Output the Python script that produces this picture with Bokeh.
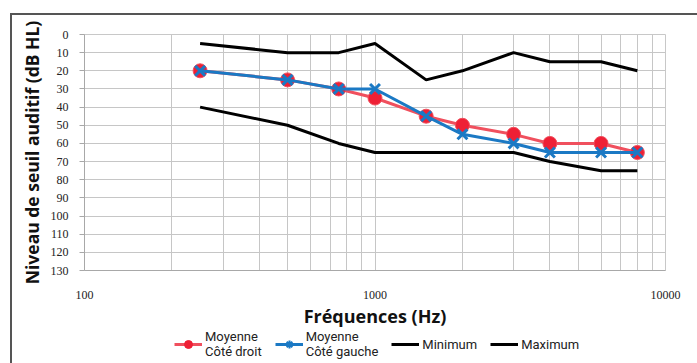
from bokeh.plotting import figure
from bokeh.models import Range1d, FixedTicker, Legend, LegendItem, ColumnDataSource
from bokeh.layouts import column
from bokeh.embed import file_html
from bokeh.resources import INLINE

freqs = [250, 500, 750, 1000, 1500, 2000, 3000, 4000, 6000, 8000]
right_mean = [20, 25, 30, 35, 45, 50, 55, 60, 60, 65]
left_mean = [20, 25, 30, 30, 45, 55, 60, 65, 65, 65]
minimum = [5, 10, 10, 5, 25, 20, 10, 15, 15, 20]
maximum = [40, 50, 60, 65, 65, 65, 65, 70, 75, 75]

x_ticks = [100, 1000, 10000]
x_minor = [200, 300, 400, 500, 600, 700, 800, 900,
           2000, 3000, 4000, 5000, 6000, 7000, 8000, 9000]
y_ticks = list(range(0, 140, 10))
legend_labels = ["Moyenne\nCôté droit", "Moyenne\nCôté gauche", "Minimum", "Maximum"]

src = ColumnDataSource(dict(f=freqs, r=right_mean, l=left_mean, mn=minimum, mx=maximum))

red_line = "#f0505e"
red_fill = "#ee2035"
blue = "#1b79c4"
frame_col = "#555555"

# ---------------- main chart ----------------
p = figure(width=697, height=330, x_axis_type="log",
           x_range=Range1d(100, 10000), y_range=Range1d(130, 0),
           output_backend="svg", toolbar_location=None,
           min_border_left=84, min_border_right=32, min_border_top=34, min_border_bottom=57)

p.background_fill_color = "white"
p.border_fill_alpha = 0
p.outline_line_color = "#c8c8c8"
p.styles = {
    "background-color": "white",
    "background-image": f"linear-gradient({frame_col}, {frame_col}), linear-gradient({frame_col}, {frame_col})",
    "background-size": "2px 100%, 100% 2px",
    "background-position": "10px 13px, 10px 13px",
    "background-repeat": "no-repeat",
}

grid_col = "#c6c6c6"
p.xaxis.ticker = FixedTicker(ticks=x_ticks, minor_ticks=x_minor)
p.yaxis.ticker = FixedTicker(ticks=y_ticks)
p.xgrid.grid_line_color = grid_col
p.xgrid.minor_grid_line_color = grid_col
p.ygrid.grid_line_color = grid_col
p.xaxis.major_label_overrides = {100: "100", 1000: "1000", 10000: "10000"}

for ax in (p.xaxis[0], p.yaxis[0]):
    ax.axis_line_color = "#a8a8a8"
    ax.major_label_text_font = "Liberation Serif"
    ax.major_label_text_font_size = "12px"
    ax.major_label_text_color = "#222222"
    ax.axis_label_text_font = "Open Sans"
    ax.axis_label_text_font_style = "bold"
    ax.axis_label_text_color = "#111111"
    ax.minor_tick_line_color = None

p.xaxis.major_tick_line_color = None
p.xaxis.major_label_standoff = 14
p.xaxis.axis_label = "Fréquences (Hz)"
p.xaxis.axis_label_text_font_size = "18px"
p.xaxis.axis_label_standoff = 2

p.yaxis.major_tick_line_color = "#a8a8a8"
p.yaxis.major_tick_out = 5
p.yaxis.major_tick_in = 0
p.yaxis.major_label_standoff = 11
p.yaxis.axis_label = "Niveau de seuil auditif (dB HL)"
p.yaxis.axis_label_text_font_size = "17.5px"
p.yaxis.axis_label_standoff = 4

p.line("f", "mx", source=src, line_color="black", line_width=3)
p.line("f", "mn", source=src, line_color="black", line_width=3)
p.line("f", "r", source=src, line_color=red_line, line_width=3)
p.scatter("f", "r", source=src, marker="circle", size=14,
          fill_color=red_fill, line_color=red_line, line_width=1)
p.line("f", "l", source=src, line_color=blue, line_width=3)
p.scatter("f", "l", source=src, marker="x", size=14,
          line_color=blue, line_width=3)

# ---------------- legend strip ----------------
# the same series are added to a strip whose ranges keep them out of view,
# so that only their legend swatches show
p2 = figure(width=697, height=33, x_range=Range1d(0, 1), y_range=Range1d(0, 1),
            output_backend="svg", toolbar_location=None, min_border=0)
p2.axis.visible = False
p2.grid.visible = False
p2.outline_line_color = None
p2.background_fill_alpha = 0
p2.border_fill_alpha = 0
p2.styles = {
    "background-color": "white",
    "background-image": f"linear-gradient({frame_col}, {frame_col})",
    "background-size": "2px 100%",
    "background-position": "10px 0px",
    "background-repeat": "no-repeat",
}

k_r1 = p2.line("f", "r", source=src, line_color=red_line, line_width=3)
k_r2 = p2.scatter("f", "r", source=src, marker="circle", size=11,
                  fill_color=red_fill, line_color=red_fill)
k_b1 = p2.line("f", "l", source=src, line_color=blue, line_width=3)
k_b2 = p2.scatter("f", "l", source=src, marker="asterisk", size=12,
                  line_color=blue, line_width=2)
k_mn = p2.line("f", "mn", source=src, line_color="black", line_width=3)
k_mx = p2.line("f", "mx", source=src, line_color="black", line_width=3)

legend = Legend(items=[
    LegendItem(label=legend_labels[0], renderers=[k_r1, k_r2]),
    LegendItem(label=legend_labels[1], renderers=[k_b1, k_b2]),
    LegendItem(label=legend_labels[2], renderers=[k_mn]),
    LegendItem(label=legend_labels[3], renderers=[k_mx]),
], orientation="horizontal", location=(90, 4))
legend.label_text_font = "Roboto"
legend.label_text_font_size = "13px"
legend.label_text_line_height = 1.0
legend.label_text_color = "#222222"
legend.border_line_color = None
legend.background_fill_alpha = 0
legend.glyph_width = 28
legend.spacing = 13
legend.label_standoff = 3
legend.padding = 0
legend.margin = 0
p2.add_layout(legend, "center")

layout = column(p, p2, spacing=0)
open("out.html", "w").write(file_html(layout, INLINE))
